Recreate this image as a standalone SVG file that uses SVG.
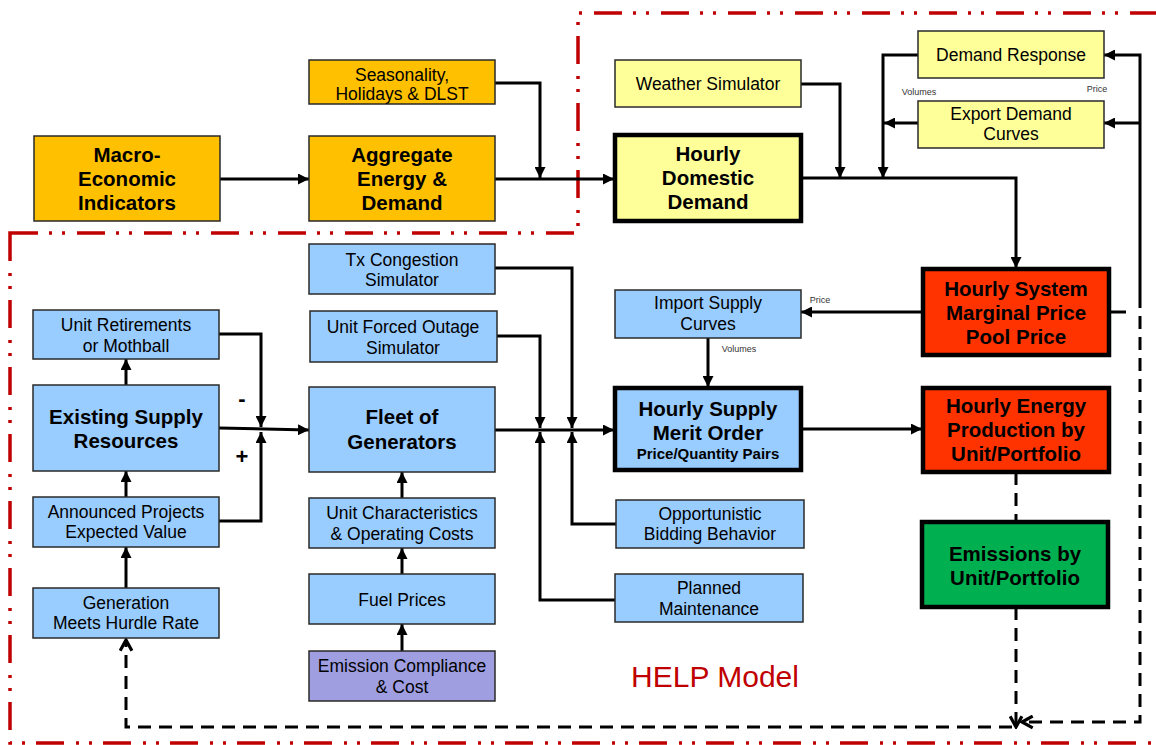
<svg xmlns="http://www.w3.org/2000/svg" width="1156" height="745" viewBox="0 0 1156 745">
<style>
.n{stroke:#2a2a2a;stroke-width:1.5}
.t{stroke:#000;stroke-width:4.5}
.or{fill:#FFC000}.yl{fill:#FFFF99}.bl{fill:#99CCFF}.rd{fill:#FF3300}.gr{fill:#00B050}.pu{fill:#9E9EE0}
text{font-family:"Liberation Sans",Arial,sans-serif;fill:#000;text-anchor:middle}
.r{font-size:17.5px}
.b{font-size:20.5px;font-weight:bold}
.s{font-size:15px;font-weight:bold}
.tiny{font-size:9px;fill:#333}
.c{fill:none;stroke:#000;stroke-width:3}
.d{fill:none;stroke:#000;stroke-width:3;stroke-dasharray:13 8}
</style>
<defs>
<marker id="a" viewBox="0 0 10 10" refX="10" refY="5" markerWidth="11" markerHeight="11" markerUnits="userSpaceOnUse" orient="auto"><path d="M0,0 L10,5 L0,10 z" fill="#000"/></marker>
<marker id="o" viewBox="0 0 14 14" refX="12" refY="7" markerWidth="15" markerHeight="15" markerUnits="userSpaceOnUse" orient="auto"><path d="M2,1.5 L12,7 L2,12.5" fill="none" stroke="#000" stroke-width="3"/></marker>
</defs>
<rect width="1156" height="745" fill="#fff"/>
<path id="boundary" d="M10,233 H578 V13 H1170 V743 H10 Z" fill="none" stroke="#C00000" stroke-width="3.5" stroke-dasharray="28 11 3 10 3 12"/>
<g id="connectors">
<path class="c" d="M220,179 H309" marker-end="url(#a)"/>
<path class="c" d="M495,179 H614" marker-end="url(#a)"/>
<path class="c" d="M495,83 H540 V178" marker-end="url(#a)"/>
<path class="c" d="M801,84 H840 V178" marker-end="url(#a)"/>
<path class="c" d="M801,178 H1016 V268" marker-end="url(#a)"/>
<path class="c" d="M918,55 H883 V178" marker-end="url(#a)"/>
<path class="c" d="M918,123 H884" marker-end="url(#a)"/>
<path class="c" d="M1140,308 V55 H1104" marker-end="url(#a)"/>
<path class="c" d="M1140,123 H1104" marker-end="url(#a)"/>
<path class="c" d="M1109,312 H1126"/>
<path class="d" d="M1140,316 V722 H1022" marker-end="url(#o)"/>
<path class="d" d="M1016,472 V521"/>
<path class="d" d="M1016,607 V727" marker-end="url(#o)"/>
<path class="d" d="M1012,727 H126 V640" marker-end="url(#o)"/>
<path class="c" d="M922,312 H801" marker-end="url(#a)"/>
<path class="c" d="M708,338 V387" marker-end="url(#a)"/>
<path class="c" d="M802,429 H922" marker-end="url(#a)"/>
<path class="c" d="M495,430 H614" marker-end="url(#a)"/>
<path class="c" d="M495,268 H572 V428" marker-end="url(#a)"/>
<path class="c" d="M497,336 H540 V428" marker-end="url(#a)"/>
<path class="c" d="M616,524 H572 V432" marker-end="url(#a)"/>
<path class="c" d="M615,600 H540 V432" marker-end="url(#a)"/>
<path class="c" d="M219,428 L309,430" marker-end="url(#a)"/>
<path class="c" d="M219,334 H261 V427" marker-end="url(#a)"/>
<path class="c" d="M219,521 H261 V432" marker-end="url(#a)"/>
<path class="c" d="M126,385 V359" marker-end="url(#a)"/>
<path class="c" d="M126,497 V471" marker-end="url(#a)"/>
<path class="c" d="M126,588 V547" marker-end="url(#a)"/>
<path class="c" d="M402,498 V472" marker-end="url(#a)"/>
<path class="c" d="M402,574 V548" marker-end="url(#a)"/>
<path class="c" d="M402,651 V624" marker-end="url(#a)"/>
<text class="tiny" x="820" y="303">Price</text>
<text class="tiny" x="739" y="352">Volumes</text>
<text class="tiny" x="919" y="95">Volumes</text>
<text class="tiny" x="1097" y="92">Price</text>
<text x="242" y="406" style="font-size:22px;font-weight:bold">-</text>
<text x="242" y="464" style="font-size:22px;font-weight:bold">+</text>
</g>
<g id="macro"><rect class="n or" x="34" y="136" width="186" height="85"/><text class="b" x="127" y="162">Macro-</text><text class="b" x="127" y="186">Economic</text><text class="b" x="127" y="210">Indicators</text></g>
<g id="aggregate"><rect class="n or" x="309" y="136" width="186" height="85"/><text class="b" x="402" y="162">Aggregate</text><text class="b" x="402" y="186">Energy &amp;</text><text class="b" x="402" y="210">Demand</text></g>
<g id="seasonality"><rect class="n or" x="309" y="60" width="186" height="44"/><text class="r" x="402" y="81">Seasonality,</text><text class="r" x="402" y="100">Holidays &amp; DLST</text></g>
<g id="domestic"><rect class="t yl" x="615" y="135" width="186" height="86"/><text class="b" x="708" y="161">Hourly</text><text class="b" x="708" y="185">Domestic</text><text class="b" x="708" y="209">Demand</text></g>
<g id="weather"><rect class="n yl" x="615" y="60" width="186" height="47"/><text class="r" x="708" y="90">Weather Simulator</text></g>
<g id="demandresponse"><rect class="n yl" x="918" y="31" width="186" height="47"/><text class="r" x="1011" y="61">Demand Response</text></g>
<g id="export"><rect class="n yl" x="918" y="101" width="186" height="47"/><text class="r" x="1011" y="120">Export Demand</text><text class="r" x="1011" y="140">Curves</text></g>
<g id="smp"><rect class="t rd" x="923" y="269" width="186" height="86"/><text class="b" x="1016" y="296">Hourly System</text><text class="b" x="1016" y="320">Marginal Price</text><text class="b" x="1016" y="344">Pool Price</text></g>
<g id="import"><rect class="n bl" x="615" y="290" width="186" height="48"/><text class="r" x="708" y="309">Import Supply</text><text class="r" x="708" y="330">Curves</text></g>
<g id="merit"><rect class="t bl" x="615" y="388" width="186" height="82"/><text class="b" x="708" y="416">Hourly Supply</text><text class="b" x="708" y="440">Merit Order</text><text class="s" x="708" y="459">Price/Quantity Pairs</text></g>
<g id="production"><rect class="t rd" x="923" y="388" width="186" height="84"/><text class="b" x="1016" y="413">Hourly Energy</text><text class="b" x="1016" y="437">Production by</text><text class="b" x="1016" y="461">Unit/Portfolio</text></g>
<g id="emissions"><rect class="t gr" x="922" y="522" width="186" height="85"/><text class="b" x="1015" y="561">Emissions by</text><text class="b" x="1015" y="585">Unit/Portfolio</text></g>
<g id="tx"><rect class="n bl" x="309" y="244" width="186" height="50"/><text class="r" x="402" y="266">Tx Congestion</text><text class="r" x="402" y="286">Simulator</text></g>
<g id="forced"><rect class="n bl" x="310" y="311" width="187" height="51"/><text class="r" x="403" y="333">Unit Forced Outage</text><text class="r" x="403" y="354">Simulator</text></g>
<g id="fleet"><rect class="n bl" x="309" y="387" width="186" height="85"/><text class="b" x="402" y="424">Fleet of</text><text class="b" x="402" y="449">Generators</text></g>
<g id="retire"><rect class="n bl" x="33" y="310" width="186" height="49"/><text class="r" x="126" y="331">Unit Retirements</text><text class="r" x="126" y="352">or Mothball</text></g>
<g id="existing"><rect class="n bl" x="33" y="385" width="186" height="86"/><text class="b" x="126" y="424">Existing Supply</text><text class="b" x="126" y="448">Resources</text></g>
<g id="announced"><rect class="n bl" x="33" y="497" width="186" height="50"/><text class="r" x="126" y="518">Announced Projects</text><text class="r" x="126" y="538">Expected Value</text></g>
<g id="hurdle"><rect class="n bl" x="33" y="588" width="186" height="50"/><text class="r" x="126" y="609">Generation</text><text class="r" x="126" y="629">Meets Hurdle Rate</text></g>
<g id="unitchar"><rect class="n bl" x="309" y="498" width="186" height="50"/><text class="r" x="402" y="519">Unit Characteristics</text><text class="r" x="402" y="540">&amp; Operating Costs</text></g>
<g id="fuel"><rect class="n bl" x="309" y="574" width="186" height="50"/><text class="r" x="402" y="606">Fuel Prices</text></g>
<g id="compliance"><rect class="n pu" x="309" y="651" width="186" height="50"/><text class="r" x="402" y="672">Emission Compliance</text><text class="r" x="402" y="693">&amp; Cost</text></g>
<g id="bidding"><rect class="n bl" x="616" y="500" width="188" height="48"/><text class="r" x="710" y="520">Opportunistic</text><text class="r" x="710" y="540">Bidding Behavior</text></g>
<g id="maintenance"><rect class="n bl" x="615" y="574" width="188" height="48"/><text class="r" x="709" y="594">Planned</text><text class="r" x="709" y="615">Maintenance</text></g>
<text x="715" y="687" style="font-size:30px;fill:#C00000">HELP Model</text>
</svg>
